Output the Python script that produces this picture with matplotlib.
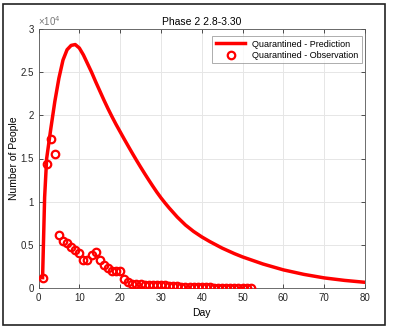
import matplotlib
matplotlib.use("Agg")
import matplotlib.pyplot as plt
from matplotlib.patches import Rectangle

plt.rcParams['font.family'] = ['Liberation Sans', 'DejaVu Sans']

# Prediction curve (day, quarantined count)
pred_days = [1, 1.5, 2, 3, 4, 5, 6, 7, 8, 9, 10, 11, 12, 13, 14, 15, 16, 17, 18,
             19, 20, 21, 22, 23, 24, 25, 26, 27, 28, 29, 30, 31, 32, 34, 36, 38,
             40, 42, 45, 48, 50, 55, 60, 65, 70, 75, 80]
pred_vals = [1200, 10500, 15000, 18400, 21600, 24300, 26400, 27600, 28100, 28200,
             27800, 27000, 26000, 25000, 23900, 22850, 21800, 20800, 19850,
             18950, 18100, 17250, 16420, 15600, 14800, 14020, 13260, 12520,
             11800, 11100, 10450, 9850, 9280, 8220, 7300, 6550,
             5920, 5370, 4620, 3980, 3600, 2780, 2100, 1580, 1170, 880, 660]

# Observations
obs_days = list(range(1, 53))
obs_vals = [1200, 14400, 17300, 15500, 6100, 5400, 5200, 4800, 4400, 4100,
            3300, 3200, 3800, 4200, 3200, 2700, 2300, 2000, 2000, 2000,
            1050, 650, 500, 450, 420, 400, 380, 360, 340, 320,
            300, 280, 250, 210, 170, 140, 120, 100, 90, 80,
            70, 60, 55, 50, 45, 40, 35, 30, 28, 25, 22, 20]

x_ticks = [0, 10, 20, 30, 40, 50, 60, 70, 80]
y_ticks = [0, 5000, 10000, 15000, 20000, 25000, 30000]
y_tick_labels = ['0', '0.5', '1', '1.5', '2', '2.5', '3']

fig = plt.figure(figsize=(3.94, 3.31), dpi=100)
ax = fig.add_axes([38.5/394, 1-288/331, (365-38.5)/394, (288-29)/331])

axc = '#333333'
ax.plot(pred_days, pred_vals, color='#ff0000', lw=2.5, solid_joinstyle='round',
        label='Quarantined - Prediction', zorder=3)
ax.plot(obs_days, obs_vals, linestyle='none', marker='o', ms=5.4, mfc='none',
        mec='#ff0000', mew=1.6, label='Quarantined - Observation', zorder=4)

ax.set_xlim(0, 80)
ax.set_ylim(0, 30000)
ax.set_xticks(x_ticks)
ax.set_yticks(y_ticks)
ax.set_yticklabels(y_tick_labels)
ax.grid(True, color='#e6e6e6', lw=0.7)
ax.set_axisbelow(True)
ax.tick_params(direction='in', length=3, width=0.6, colors=axc, labelsize=7,
               top=True, right=True, labelcolor='#262626')
for s in ax.spines.values():
    s.set_color('#555555')
    s.set_linewidth(0.6)

ax.set_title('Phase 2 2.8-3.30', fontsize=7.5, color='#000000', pad=3)
ax.set_xlabel('Day', fontsize=7.5, labelpad=4)
ax.set_ylabel('Number of People', fontsize=7.5, labelpad=1)
ax.text(0, 1.005, '×10$^4$', transform=ax.transAxes, fontsize=7, color='#777777',
        ha='left', va='bottom')

leg = ax.legend(loc='upper right', fontsize=6.5, frameon=True, fancybox=False,
                edgecolor='#888888', handlelength=3.2, borderpad=0.4,
                labelspacing=0.25, borderaxespad=0,
                bbox_to_anchor=(0.991, 0.973))
leg.get_frame().set_linewidth(0.6)

fig.patches.append(Rectangle((3/394, 1-325/331), (385-3)/394, (325-4)/331,
                             transform=fig.transFigure, fill=False,
                             edgecolor='#222222', lw=1.2))

fig.savefig('out.png', dpi=100, facecolor='white')
